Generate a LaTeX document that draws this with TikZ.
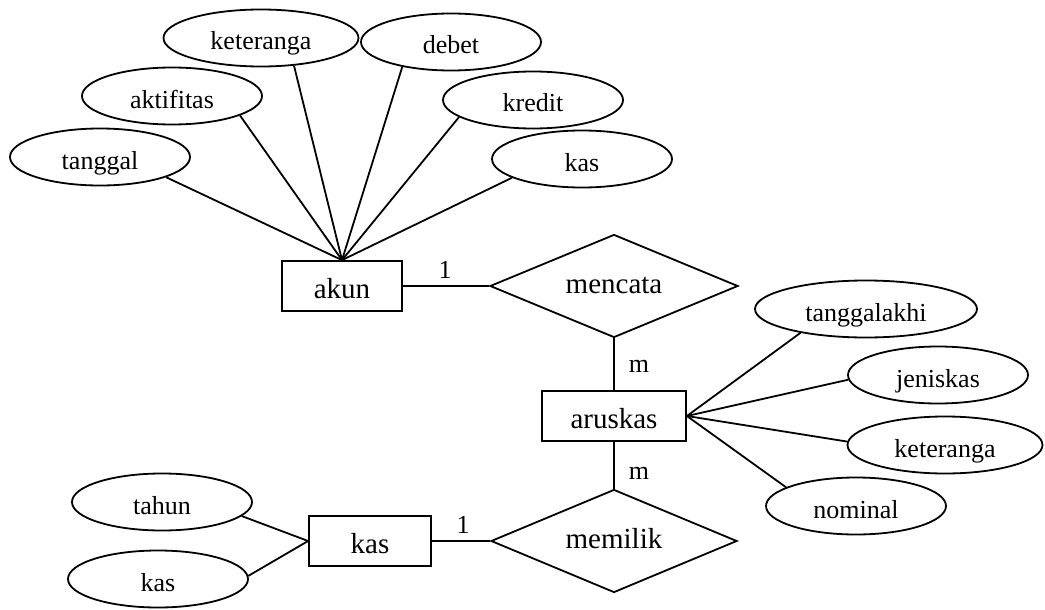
\documentclass[tikz,border=0pt]{standalone}
\usepackage{fontspec}
\setmainfont{Liberation Serif}
\usetikzlibrary{shapes.geometric}
\begin{document}
\begin{tikzpicture}[x=1pt,y=-1pt,line width=1.8pt,
	entitas/.style={draw,rectangle,minimum width=120pt,minimum height=50pt,inner sep=0pt,
		text height=24pt,text depth=0pt,font=\fontsize{29}{32}\selectfont},
	relasi/.style={draw,diamond,aspect=2.4,minimum width=248pt,minimum height=103pt,inner sep=0pt,
		text height=14pt,text depth=0pt,font=\fontsize{29}{32}\selectfont},
	atribut/.style={draw,ellipse,minimum width=180pt,minimum height=57pt,inner sep=0pt,
		text height=24pt,text depth=0pt,font=\fontsize{26}{28}\selectfont},
	kardinal/.style={inner sep=1pt,font=\fontsize{26}{28}\selectfont}]
	\useasboundingbox (0,0) rectangle (1045,610);
	%实体和关系
	\node[entitas] (akun) at (342,286) {akun};
	\node[relasi] (mencata) at (614,286) {mencata};
	\node[entitas,minimum width=144pt] (aruskas) at (614,416) {aruskas};
	\node[relasi,minimum width=246pt] (memilik) at (614,541) {memilik};
	\node[entitas,minimum width=122pt] (kas) at (370,541) {kas};
	%属性
	\node[atribut] (tanggal) at (100,157) {tanggal};
	\node[atribut] (aktifitas) at (172,96) {aktifitas};
	\node[atribut,minimum width=195pt] (keteranga) at (261,38) {keteranga};
	\node[atribut] (debet) at (451,42) {debet};
	\node[atribut] (kredit) at (533,100) {kredit};
	\node[atribut] (kasakun) at (582,159) {kas};
	\node[atribut,minimum width=222pt] (tanggalakhir) at (866,309) {tanggalakhi};
	\node[atribut] (jeniskas) at (938,375) {jeniskas};
	\node[atribut,minimum width=195pt] (keterangaarus) at (945,445) {keteranga};
	\node[atribut] (nominal) at (856,506) {nominal};
	\node[atribut] (tahun) at (162,502) {tahun};
	\node[atribut] (kaskas) at (158,579) {kas};
	%线
	\foreach \a/\s in {tanggal/-17,aktifitas/-16,keteranga/-40,debet/207,kredit/193,kasakun/195}
	{
		\draw (\a.\s) -- (akun.north);
	}
	\foreach \a/\s in {tanggalakhir/200,jeniskas/183,keterangaarus/178,nominal/165}
	{
		\draw (\a.\s) -- (aruskas.east);
	}
	\draw (tahun.-10) -- (kas.west);
	\draw (kaskas.2) -- (kas.west);
	\draw (akun.east) -- (mencata.west);
	\draw (mencata.south) -- (aruskas.north);
	\draw (aruskas.south) -- (memilik.north);
	\draw (kas.east) -- (memilik.west);
	%基数
	\node[kardinal] (k1) at (445,270) {1};
	\node[kardinal] (k2) at (639,366) {m};
	\node[kardinal] (k3) at (639,473) {m};
	\node[kardinal] (k4) at (463,525) {1};
\end{tikzpicture}
\end{document}
